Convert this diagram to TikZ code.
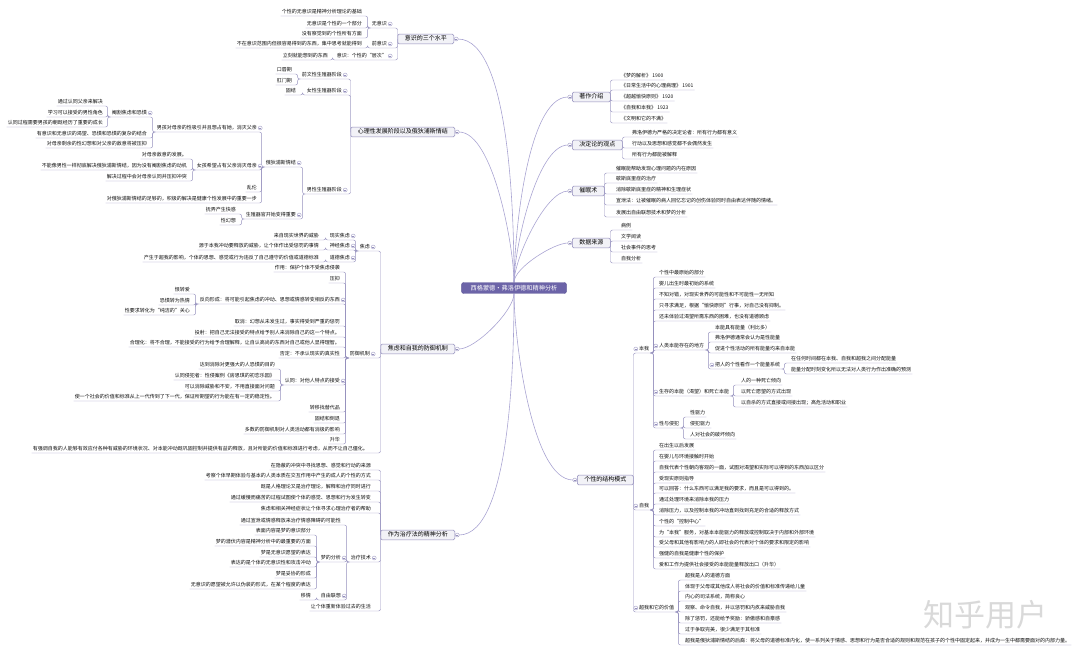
\documentclass[tikz,border=0pt]{standalone}
\usepackage{fontspec}
\setmainfont{Noto Sans CJK SC}
\pgfdeclarelayer{back}
\pgfsetlayers{back,main}
\definecolor{twigc}{HTML}{9590BD}
\definecolor{trunkc}{HTML}{A9A4D2}
\definecolor{boxd}{HTML}{8F8ABA}
\definecolor{boxf}{HTML}{F2F2F7}
\definecolor{rootc}{HTML}{6C64A8}
\definecolor{rootd}{HTML}{5A5396}

\begin{document}
\begin{tikzpicture}[x=1pt, y=-1pt,
    leaf/.style={font=\fontsize{5}{6}\selectfont, text=black!95, inner xsep=1pt, inner ysep=1.2pt, text height=4.3pt, text depth=0.9pt},
    lleaf/.style={leaf, anchor=east},
    rleaf/.style={leaf, anchor=west},
    foldc/.style={circle, draw=twigc, fill=white, line width=0.35pt, inner sep=0pt, minimum size=4pt, text height=0pt, text depth=0pt,
        path picture={\draw[twigc, line width=0.35pt] ([xshift=-1.2pt]path picture bounding box.center) -- ([xshift=1.2pt]path picture bounding box.center);}},
    lpar/.style={label={[foldc, anchor=west]right:}},
    rpar/.style={label={[foldc, anchor=east]left:}},
    branch/.style={draw=boxd, fill=boxf, rounded corners=1.5pt, line width=0.5pt, font=\fontsize{6}{7}\selectfont, text=black, inner xsep=7pt, inner ysep=2pt, text height=4.9pt, text depth=1pt},
    root/.style={draw=rootd, fill=rootc, text=white, rounded corners=2pt, font=\fontsize{6.2}{7}\selectfont, inner xsep=9pt, inner ysep=2.6pt},
    trunk/.style={draw=trunkc, line width=0.6pt, looseness=0.55},
    twig/.style={draw=twigc, line width=0.45pt, rounded corners=2pt},
    lbox/.style={twig, to path={(\tikztostart.west) |- (\tikztotarget.south east) -- (\tikztotarget.south west)}},
    rbox/.style={twig, to path={(\tikztostart.east) |- (\tikztotarget.south west) -- (\tikztotarget.south east)}},
    lkid/.style={twig, to path={(\tikztostart.south west) -- ++(-3,0) |- (\tikztotarget.south east) -- (\tikztotarget.south west)}},
    rkid/.style={twig, to path={(\tikztostart.south east) -- ++(3,0) |- (\tikztotarget.south west) -- (\tikztotarget.south east)}}]
    \useasboundingbox (0,0) rectangle (1080,654);

    % 中心
    \node (root) [root] at (514, 288) {西格蒙德·弗洛伊德和精神分析};

    % 主干
    \node (sanshuiping) [branch, anchor=east, lpar] at (454, 39) {意识的三个水平};
    \node (xinli) [branch, anchor=east, lpar] at (455, 132) {心理性发展阶段以及俄狄浦斯情结};
    \node (jiaolv) [branch, anchor=east, lpar] at (455, 349) {焦虑和自我的防御机制};
    \node (zhiliao) [branch, anchor=east, lpar] at (455, 535) {作为治疗法的精神分析};
    \node (zhuzuo) [branch, anchor=west, rpar] at (572, 97) {著作介绍};
    \node (jueding) [branch, anchor=west, rpar] at (572, 145) {决定论的观点};
    \node (cuimian) [branch, anchor=west, rpar] at (572, 191) {催眠术};
    \node (laiyuan) [branch, anchor=west, rpar] at (572, 243) {数据来源};
    \node (jiegou) [branch, anchor=west, rpar] at (577, 480) {个性的结构模式};

    % 意识的三个水平
    \node (wuyishi) [lleaf, lpar] at (388, 24) {无意识};
    \node (qianyishi) [lleaf, lpar] at (388, 44) {前意识};
    \node (yishi) [lleaf, lpar] at (388, 56) {意识：个性的“层次”};
    \node (wy1) [lleaf] at (363, 12) {个性的无意识是精神分析理论的基础};
    \node (wy2) [lleaf] at (363, 24) {无意识是个性的一个部分};
    \node (wy3) [lleaf] at (363, 34) {没有察觉到的个性所有方面};
    \node (qy1) [lleaf] at (363, 44) {不在意识范围内但很容易得到的东西，集中思考就能得到};
    \node (ys1) [lleaf] at (329, 56) {立刻就能想到的东西};

    % 心理性发展阶段
    \node (qiansz) [lleaf, lpar] at (343, 75) {前文性生殖器阶段};
    \node (nvsz) [lleaf, lpar] at (343, 91) {女性生殖器阶段};
    \node (nansz) [lleaf, lpar] at (343, 190) {男性生殖器阶段};
    \node (kouchun) [lleaf] at (293, 70) {口唇期};
    \node (gangmen) [lleaf] at (293, 81) {肛门期};
    \node (gujie) [lleaf] at (297, 91) {固结};
    \node (edps) [lleaf, lpar] at (297, 163) {俄狄浦斯情结};
    \node (szqg) [lleaf, lpar] at (297, 215) {生殖器官开始变得重要};
    \node (ed1) [lleaf, lpar] at (258, 128) {男孩对母亲的性吸引并且想占有她，消灭父亲};
    \node (ed2) [lleaf, lpar] at (258, 166) {女孩希望占有父亲消灭母亲};
    \node (ed3) [lleaf] at (258, 188) {乱伦};
    \node (ed4) [lleaf] at (258, 199) {对俄狄浦斯情结的足够的，积极的解决是健康个性发展中的重要一步};
    \node (sz1) [lleaf] at (237, 210) {抚弄产生快感};
    \node (sz2) [lleaf] at (237, 221) {性幻想};
    \node (nh1) [lleaf, lpar] at (148, 113) {阉割焦虑和恐惧};
    \node (nh2) [lleaf] at (148, 134) {有意识和无意识的渴望、恐惧和恐惧的复杂的结合};
    \node (nh3) [lleaf] at (148, 144) {对母亲剩余的性幻想和对父亲的敌意将被压抑};
    \node (yg1) [lleaf] at (104, 102) {通过认同父亲来解决};
    \node (yg2) [lleaf] at (104, 113) {学习可以接受的男性角色};
    \node (yg3) [lleaf] at (104, 123) {认同过程需要男孩的朝既经历了重要的成长};
    \node (nv1) [lleaf] at (188, 155) {对母亲敌意的发展。};
    \node (nv2) [lleaf] at (188, 166) {不能像男性一样彻底解决俄狄浦斯情结，因为没有阉割焦虑的动机};
    \node (nv3) [lleaf] at (188, 177) {解决过程中会对母亲认同并压抑冲突};

    % 焦虑和防御机制
    \node (jl) [lleaf, lpar] at (371, 247) {焦虑};
    \node (fyjz) [lleaf, lpar] at (371, 354) {防御机制};
    \node (qzwo) [lleaf] at (369, 449) {有强调自我的人能够有效应付各种有威胁的环境状况、对本能冲动既巩固控制并提供有益的释放，且对所能的价值和标准进行考虑，从而不让自己僵化。};
    \node (xsjl) [lleaf, lpar] at (351, 236) {现实焦虑};
    \node (sjjl) [lleaf, lpar] at (351, 246) {神经焦虑};
    \node (ddjl) [lleaf, lpar] at (351, 258) {道德焦虑};
    \node (xs1) [lleaf] at (320, 236) {来自现实世界的威胁};
    \node (sj1) [lleaf] at (320, 246) {源于本我冲动要释放的威胁，让个体作出受惩罚的事情};
    \node (dd1) [lleaf] at (320, 258) {产生于超我的影响，个体的思想、感觉或行为违反了自己遵守的价值或道德标准};
    \node (fy1) [lleaf] at (341, 268) {作用：保护个体不受焦虑侵袭};
    \node (fy2) [lleaf] at (341, 279) {压抑};
    \node (fy3) [lleaf, lpar] at (341, 300) {反向形成：将可能引起焦虑的冲动、思想或情感转变相反的东西};
    \node (fy4) [lleaf] at (341, 322) {取消：幻想从未发生过，事实得受到严重的惩罚};
    \node (fy5) [lleaf] at (341, 333) {投射：把自己无法接受的特点给予别人来消除自己的这一个特点。};
    \node (fy6) [lleaf] at (341, 343) {合理化：将不合理，不能接受的行为给予合理解释，让自认高尚的东西对自己或他人显得理智。};
    \node (fy7) [lleaf] at (341, 354) {否定：不承认现实的真实性};
    \node (fy8) [lleaf, lpar] at (341, 381) {认同：对他人特点的接受};
    \node (fy9) [lleaf] at (341, 408) {转移找替代品};
    \node (fy10) [lleaf] at (341, 419) {固结和倒退};
    \node (fy11) [lleaf] at (341, 430) {多数的防御机制对人类活动都有消极的影响};
    \node (fy12) [lleaf] at (341, 440) {升华};
    \node (fx1) [lleaf] at (191, 290) {恨转爱};
    \node (fx2) [lleaf] at (191, 301) {恐惧转为热情};
    \node (fx3) [lleaf] at (191, 311) {性要求转化为“纯洁的”关心};
    \node (rtong1) [lleaf] at (276, 365) {达到消除对更强大的人恐惧的目的};
    \node (rtong2) [lleaf] at (276, 376) {认同侵犯者：性侵案例《房思琪的初恋乐园》};
    \node (rtong3) [lleaf] at (276, 387) {可以消除威胁和不安，不用直接面对问题};
    \node (rtong4) [lleaf] at (276, 397) {使一个社会的价值和标准从上一代传到了下一代，保证所期望的行为能在有一定的稳定性。};

    % 作为治疗法的精神分析
    \node (zl1) [lleaf] at (372, 466) {在隐蔽的冲突中寻找思想、感觉和行动的来源};
    \node (zl2) [lleaf] at (372, 476) {考察个体早期体验与基本的人类本质在交互作用中产生的成人的个性的方式};
    \node (zl3) [lleaf] at (372, 487) {既是人格理论又是治疗理论，解释和治疗同时进行};
    \node (zl4) [lleaf] at (372, 498) {通过缓慢而痛苦的过程试图使个体的感觉、思想和行为发生转变};
    \node (zl5) [lleaf] at (372, 509) {焦虑和相关神经症状让个体寻求心理治疗者的帮助};
    \node (zljs) [lleaf, lpar] at (372, 558) {治疗技术};
    \node (zl6) [lleaf] at (372, 607) {让个体重新体验过去的生活};
    \node (js1) [lleaf] at (342, 521) {通过宣泄或情感释放来治疗情感障碍的可能性};
    \node (mengfx) [lleaf, lpar] at (342, 558) {梦的分析};
    \node (ziyou) [lleaf, lpar] at (342, 596) {自由联想};
    \node (mf1) [lleaf] at (312, 531) {表面内容是梦的意识部分};
    \node (mf2) [lleaf] at (312, 542) {梦的潜伏内容是精神分析中的最重要的方面};
    \node (mf3) [lleaf] at (312, 553) {梦是无意识愿望的表达};
    \node (mf4) [lleaf] at (312, 563) {表达的是个体的无意识性和攻击冲动};
    \node (mf5) [lleaf] at (312, 574) {梦是妥协的形成};
    \node (mf6) [lleaf] at (312, 585) {无意识的愿望被允许以伪装的形式，在某个程度的表达};
    \node (yiqing) [lleaf] at (312, 596) {移情};

    % 著作介绍、决定论、催眠术、数据来源
    \node (zz1) [rleaf] at (620, 76) {《梦的解析》 1900};
    \node (zz2) [rleaf] at (620, 86) {《日常生活中的心理病理》 1901};
    \node (zz3) [rleaf] at (620, 97) {《超越愉快原则》 1920};
    \node (zz4) [rleaf] at (620, 108) {《自我和本我》 1923};
    \node (zz5) [rleaf] at (620, 119) {《文明和它的不满》};
    \node (jd1) [rleaf] at (631, 133) {弗洛伊德为严格的决定论者：所有行为都有意义};
    \node (jd2) [rleaf] at (631, 144) {行动以及思想和感觉都不会偶然发生};
    \node (jd3) [rleaf] at (631, 155) {所有行为都能被解释};
    \node (cm1) [rleaf] at (615, 169) {催眠能帮助发现心理问题的内在原因};
    \node (cm2) [rleaf] at (615, 179) {歇斯底里症的治疗};
    \node (cm3) [rleaf] at (615, 190) {消除歇斯底里症的精神和生理症状};
    \node (cm4) [rleaf] at (615, 201) {宣泄法：让被催眠的病人回忆忘记的创伤体验同时自由表达伴随的情绪。};
    \node (cm5) [rleaf] at (615, 213) {发展出自由联想技术和梦的分析};
    \node (ly1) [rleaf] at (620, 226) {病例};
    \node (ly2) [rleaf] at (620, 237) {文学阅读};
    \node (ly3) [rleaf] at (620, 248) {社会事件的思考};
    \node (ly4) [rleaf] at (620, 259) {自我分析};

    % 个性的结构模式
    \node (benwo) [rleaf, rpar] at (638, 349) {本我};
    \node (ziwo) [rleaf, rpar] at (638, 506) {自我};
    \node (chaowo) [rleaf, rpar] at (638, 608) {超我和它的价值};
    \node (bw1) [rleaf] at (658, 273) {个性中最原始的部分};
    \node (bw2) [rleaf] at (658, 284) {婴儿出生时最初始的系统};
    \node (bw3) [rleaf] at (658, 295) {不知对错，对现实世界的可能性和不可能性一无所知};
    \node (bw4) [rleaf] at (658, 306) {只寻求满足，根据“愉快原则”行事，对自己没有抑制。};
    \node (bw5) [rleaf] at (658, 317) {还未体验过渴望所需东西的困难，也没有道德顾虑};
    \node (bnc) [rleaf, rpar] at (658, 346) {人类本能存在的地方};
    \node (scbn) [rleaf, rpar] at (658, 392) {生存的本能（渴望）和死亡本能};
    \node (xyqf) [rleaf, rpar] at (658, 424) {性与侵犯};
    \node (bn1) [rleaf] at (714, 328) {本能具有能量（利比多）};
    \node (bn2) [rleaf] at (714, 338) {弗洛伊德通常会认为是性能量};
    \node (bn3) [rleaf] at (714, 349) {促进个性活动的所有能量均来自本能};
    \node (nlxt) [rleaf, rpar] at (714, 365) {把人的个性看作一个能量系统};
    \node (nl1) [rleaf] at (790, 359) {在任何时间都在本我、自我和超我之间分配能量};
    \node (nl2) [rleaf] at (790, 370) {能量分配时刻变化所以无法对人类行为作出准确的预测};
    \node (sc1) [rleaf] at (740, 381) {人的一种死亡倾向};
    \node (sc2) [rleaf] at (740, 392) {以死亡愿望的方式出现};
    \node (sc3) [rleaf] at (740, 403) {以自杀的方式直接或间接出现；高危活动和职业};
    \node (xq1) [rleaf] at (689, 413) {性驱力};
    \node (xq2) [rleaf] at (689, 424) {侵犯驱力};
    \node (xq3) [rleaf] at (689, 435) {人对社会的破坏倾向};
    \node (zw1) [rleaf] at (658, 446) {在出生以后发展};
    \node (zw2) [rleaf] at (658, 457) {在婴儿与环境接触时开始};
    \node (zw3) [rleaf] at (658, 468) {自我代表个性朝向客观的一面，试图对渴望和实际可以得到的东西加以区分};
    \node (zw4) [rleaf] at (658, 479) {受现实原则指导};
    \node (zw5) [rleaf] at (658, 489) {可以回答：什么东西可以满足我的要求，而且是可以得到的。};
    \node (zw6) [rleaf] at (658, 500) {通过处理环境来消除本我的压力};
    \node (zw7) [rleaf] at (658, 511) {消除压力，以及控制本我的冲动直到找到充足的合适的释放方式};
    \node (zw8) [rleaf] at (658, 522) {个性的“控制中心”};
    \node (zw9) [rleaf] at (658, 533) {为“本我”服务，对基本本能驱力的释放或控制取决于内部和外部环境};
    \node (zw10) [rleaf] at (658, 543) {受父母和其他有影响力的人即社会的代表对个体的要求和限定的影响};
    \node (zw11) [rleaf] at (658, 554) {强健的自我是健康个性的保护};
    \node (zw12) [rleaf] at (658, 565) {爱和工作为提供社会接受的本能能量释放出口（升华）};
    \node (cw1) [rleaf] at (684, 576) {超我是人的道德方面};
    \node (cw2) [rleaf] at (684, 587) {体现于父母或其他成人将社会的价值和标准传递给儿童};
    \node (cw3) [rleaf] at (684, 597) {内心的司法系统，简称良心};
    \node (cw4) [rleaf] at (684, 608) {观察、命令自我，并以惩罚和内疚来威胁自我};
    \node (cw5) [rleaf] at (684, 619) {除了惩罚，还能给予奖励：骄傲感和自豪感};
    \node (cw6) [rleaf] at (684, 630) {过于争取完美，很少满足于其标准};
    \node (cw7) [rleaf] at (684, 641) {超我是俄狄浦斯情结的后裔：将父母的道德标准内化，使一系列关于情感、思想和行为是否合适的规则和规范在孩子的个性中固定起来，并成为一生中都需要面对的内部力量。};

    % 水印
    \node (zhihu) [font=\fontsize{31}{32}\selectfont, text=gray!30] at (985, 615) {知乎用户};

    % 连线
    \begin{pgfonlayer}{back}
    \draw[trunk] (root) to[out=90, in=0] ([xshift=4pt]sanshuiping.east);
    \draw[trunk] (root) to[out=90, in=0] ([xshift=4pt]xinli.east);
    \draw[trunk] (root) to[out=-90, in=0] ([xshift=4pt]jiaolv.east);
    \draw[trunk] (root) to[out=-90, in=0] ([xshift=4pt]zhiliao.east);
    \draw[trunk] (root) to[out=90, in=180] ([xshift=-4pt]zhuzuo.west);
    \draw[trunk] (root) to[out=90, in=180] ([xshift=-4pt]jueding.west);
    \draw[trunk] (root) to[out=90, in=180] ([xshift=-4pt]cuimian.west);
    \draw[trunk] (root) to[out=90, in=180] ([xshift=-4pt]laiyuan.west);
    \draw[trunk] (root) to[out=-90, in=180] ([xshift=-4pt]jiegou.west);

    \path (sanshuiping) edge[lbox] (wuyishi) edge[lbox] (qianyishi) edge[lbox] (yishi);
    \path (wuyishi) edge[lkid] (wy1) edge[lkid] (wy2) edge[lkid] (wy3);
    \path (qianyishi) edge[lkid] (qy1);
    \path (yishi) edge[lkid] (ys1);

    \path (xinli) edge[lbox] (qiansz) edge[lbox] (nvsz) edge[lbox] (nansz);
    \path (qiansz) edge[lkid] (kouchun) edge[lkid] (gangmen);
    \path (nvsz) edge[lkid] (gujie);
    \path (nansz) edge[lkid] (edps) edge[lkid] (szqg);
    \path (edps) edge[lkid] (ed1) edge[lkid] (ed2) edge[lkid] (ed3) edge[lkid] (ed4);
    \path (szqg) edge[lkid] (sz1) edge[lkid] (sz2);
    \path (ed1) edge[lkid] (nh1) edge[lkid] (nh2) edge[lkid] (nh3);
    \path (nh1) edge[lkid] (yg1) edge[lkid] (yg2) edge[lkid] (yg3);
    \path (ed2) edge[lkid] (nv1) edge[lkid] (nv2) edge[lkid] (nv3);

    \path (jiaolv) edge[lbox] (jl) edge[lbox] (fyjz) edge[lbox] (qzwo);
    \path (jl) edge[lkid] (xsjl) edge[lkid] (sjjl) edge[lkid] (ddjl);
    \path (xsjl) edge[lkid] (xs1);
    \path (sjjl) edge[lkid] (sj1);
    \path (ddjl) edge[lkid] (dd1);
    \path (fyjz) edge[lkid] (fy1) edge[lkid] (fy2) edge[lkid] (fy3) edge[lkid] (fy4) edge[lkid] (fy5) edge[lkid] (fy6)
        edge[lkid] (fy7) edge[lkid] (fy8) edge[lkid] (fy9) edge[lkid] (fy10) edge[lkid] (fy11) edge[lkid] (fy12);
    \path (fy3) edge[lkid] (fx1) edge[lkid] (fx2) edge[lkid] (fx3);
    \path (fy8) edge[lkid] (rtong1) edge[lkid] (rtong2) edge[lkid] (rtong3) edge[lkid] (rtong4);

    \path (zhiliao) edge[lbox] (zl1) edge[lbox] (zl2) edge[lbox] (zl3) edge[lbox] (zl4) edge[lbox] (zl5) edge[lbox] (zljs) edge[lbox] (zl6);
    \path (zljs) edge[lkid] (js1) edge[lkid] (mengfx) edge[lkid] (ziyou);
    \path (mengfx) edge[lkid] (mf1) edge[lkid] (mf2) edge[lkid] (mf3) edge[lkid] (mf4) edge[lkid] (mf5) edge[lkid] (mf6);
    \path (ziyou) edge[lkid] (yiqing);

    \path (zhuzuo) edge[rbox] (zz1) edge[rbox] (zz2) edge[rbox] (zz3) edge[rbox] (zz4) edge[rbox] (zz5);
    \path (jueding) edge[rbox] (jd1) edge[rbox] (jd2) edge[rbox] (jd3);
    \path (cuimian) edge[rbox] (cm1) edge[rbox] (cm2) edge[rbox] (cm3) edge[rbox] (cm4) edge[rbox] (cm5);
    \path (laiyuan) edge[rbox] (ly1) edge[rbox] (ly2) edge[rbox] (ly3) edge[rbox] (ly4);

    \path (jiegou) edge[rbox] (benwo) edge[rbox] (ziwo) edge[rbox] (chaowo);
    \path (benwo) edge[rkid] (bw1) edge[rkid] (bw2) edge[rkid] (bw3) edge[rkid] (bw4) edge[rkid] (bw5)
        edge[rkid] (bnc) edge[rkid] (scbn) edge[rkid] (xyqf);
    \path (bnc) edge[rkid] (bn1) edge[rkid] (bn2) edge[rkid] (bn3) edge[rkid] (nlxt);
    \path (nlxt) edge[rkid] (nl1) edge[rkid] (nl2);
    \path (scbn) edge[rkid] (sc1) edge[rkid] (sc2) edge[rkid] (sc3);
    \path (xyqf) edge[rkid] (xq1) edge[rkid] (xq2) edge[rkid] (xq3);
    \path (ziwo) edge[rkid] (zw1) edge[rkid] (zw2) edge[rkid] (zw3) edge[rkid] (zw4) edge[rkid] (zw5) edge[rkid] (zw6)
        edge[rkid] (zw7) edge[rkid] (zw8) edge[rkid] (zw9) edge[rkid] (zw10) edge[rkid] (zw11) edge[rkid] (zw12);
    \path (chaowo) edge[rkid] (cw1) edge[rkid] (cw2) edge[rkid] (cw3) edge[rkid] (cw4) edge[rkid] (cw5) edge[rkid] (cw6) edge[rkid] (cw7);
    \end{pgfonlayer}
\end{tikzpicture}
\end{document}
